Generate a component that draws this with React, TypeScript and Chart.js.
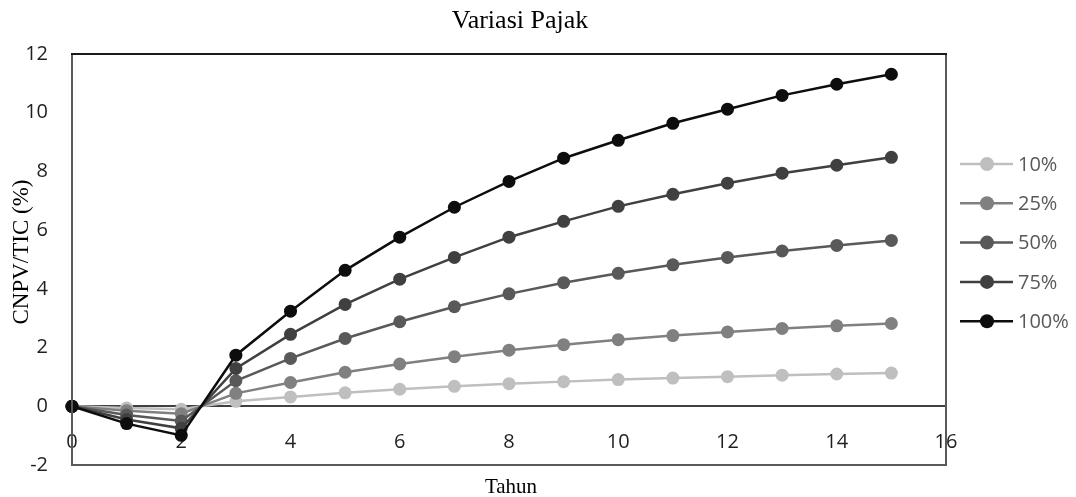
import { useEffect, useRef } from "react";
import { Chart, registerables } from "chart.js";

Chart.register(...registerables);

const years = [0, 1, 2, 3, 4, 5, 6, 7, 8, 9, 10, 11, 12, 13, 14, 15];
const seriesLabels = ["10%", "25%", "50%", "75%", "100%"];
const seriesColors = ["#bfbfbf", "#808080", "#595959", "#404040", "#0d0d0d"];
const s10 = [0, -0.06, -0.1, 0.17, 0.32, 0.46, 0.58, 0.68, 0.77, 0.84, 0.91, 0.96, 1.01, 1.06, 1.1, 1.13];
const s25 = [0, -0.15, -0.25, 0.44, 0.81, 1.16, 1.44, 1.69, 1.91, 2.1, 2.27, 2.41, 2.53, 2.65, 2.74, 2.82];
const s50 = [0, -0.3, -0.5, 0.87, 1.63, 2.31, 2.88, 3.39, 3.83, 4.21, 4.53, 4.82, 5.07, 5.29, 5.48, 5.65];
const s75 = [0, -0.45, -0.75, 1.29, 2.45, 3.47, 4.33, 5.07, 5.76, 6.3, 6.81, 7.22, 7.6, 7.94, 8.21, 8.48];
const s100 = [0, -0.59, -0.99, 1.74, 3.24, 4.63, 5.76, 6.78, 7.66, 8.45, 9.06, 9.64, 10.12, 10.59, 10.97, 11.31];
const seriesValues = [s10, s25, s50, s75, s100];
const chartTitle = "Variasi Pajak";
const xTitle = "Tahun";
const yTitle = "CNPV/TIC (%)";

const decorPlugin = {
  id: "decor",
  afterDraw(chart: any) {
    const { ctx, chartArea } = chart;
    const { left, top, right, bottom } = chartArea;
    ctx.save();
    // frame
    ctx.lineWidth = 2;
    ctx.strokeStyle = "#595959";
    ctx.beginPath();
    ctx.moveTo(left, top);
    ctx.lineTo(left, bottom);
    ctx.lineTo(right, bottom);
    ctx.lineTo(right, top);
    ctx.stroke();
    ctx.strokeStyle = "#1a1a1a";
    ctx.beginPath();
    ctx.moveTo(left - 1, top);
    ctx.lineTo(right + 1, top);
    ctx.stroke();

    // titles
    ctx.fillStyle = "#000000";
    ctx.textAlign = "center";
    ctx.textBaseline = "alphabetic";
    ctx.font = '26px "Liberation Serif", "Times New Roman", serif';
    ctx.fillText(chartTitle, 520, 28);
    ctx.font = '21px "Liberation Serif", "Times New Roman", serif';
    ctx.fillText(xTitle, 511, 493);
    ctx.save();
    ctx.translate(28, 252);
    ctx.rotate(-Math.PI / 2);
    ctx.font = '23px "Liberation Serif", "Times New Roman", serif';
    ctx.fillText(yTitle, 0, 0);
    ctx.restore();

    // legend
    const lx0 = 960;
    const lx1 = 1013;
    const mx = 987;
    const tx = 1018;
    const y0 = 164;
    const dy = 39.3;
    ctx.font = '20px "Open Sans", sans-serif';
    ctx.textAlign = "left";
    ctx.textBaseline = "middle";
    seriesLabels.forEach((lab, i) => {
      const y = y0 + i * dy;
      ctx.strokeStyle = seriesColors[i];
      ctx.lineWidth = 2.5;
      ctx.beginPath();
      ctx.moveTo(lx0, y);
      ctx.lineTo(lx1, y);
      ctx.stroke();
      ctx.fillStyle = seriesColors[i];
      ctx.beginPath();
      ctx.arc(mx, y, 7, 0, Math.PI * 2);
      ctx.fill();
      ctx.fillStyle = "#595959";
      ctx.fillText(lab, tx, y + 1);
    });
    ctx.restore();
  },
};

export default function App() {
  const canvasRef = useRef<HTMLCanvasElement | null>(null);

  useEffect(() => {
    document.body.style.margin = "0";
    const canvas = canvasRef.current;
    if (!canvas) return;
    const datasets = seriesLabels.map((lab, i) => ({
      label: lab,
      data: years.map((x, j) => ({ x, y: seriesValues[i][j] })),
      borderColor: seriesColors[i],
      backgroundColor: seriesColors[i],
      pointBackgroundColor: seriesColors[i],
      pointBorderColor: seriesColors[i],
      pointRadius: 6.5,
      pointBorderWidth: 0,
      borderWidth: 2.5,
      tension: 0,
      fill: false,
      clip: false as any,
      order: seriesLabels.length - i,
    }));
    const chart = new Chart(canvas, {
      type: "line",
      data: { datasets },
      plugins: [decorPlugin],
      options: {
        animation: false,
        responsive: true,
        maintainAspectRatio: false,
        layout: { padding: { left: 0, top: 54, right: 130, bottom: 32 } },
        plugins: {
          legend: { display: false },
          title: { display: false },
          tooltip: { enabled: false },
        },
        scales: {
          x: {
            type: "linear",
            position: { y: 0 } as any,
            min: 0,
            max: 16,
            ticks: {
              stepSize: 2,
              padding: 4,
              color: "#1f1f1f",
              font: { family: '"Open Sans", sans-serif', size: 20 },
              maxRotation: 0,
            },
            grid: { display: false, drawTicks: true, tickLength: 20 },
            border: { display: true, color: "#404040", width: 2 },
          },
          y: {
            type: "linear",
            min: -2,
            max: 12,
            afterFit: (scale: any) => {
              scale.width = 72;
            },
            ticks: {
              stepSize: 2,
              padding: 4,
              color: "#1f1f1f",
              font: { family: '"Open Sans", sans-serif', size: 20 },
            },
            grid: { display: false, drawTicks: true, tickLength: 20 },
            border: { display: false },
          },
        },
      },
    });
    return () => chart.destroy();
  }, []);

  return (
    <div style={{ width: 1076, height: 497, position: "relative" }}>
      <canvas ref={canvasRef} />
    </div>
  );
}
